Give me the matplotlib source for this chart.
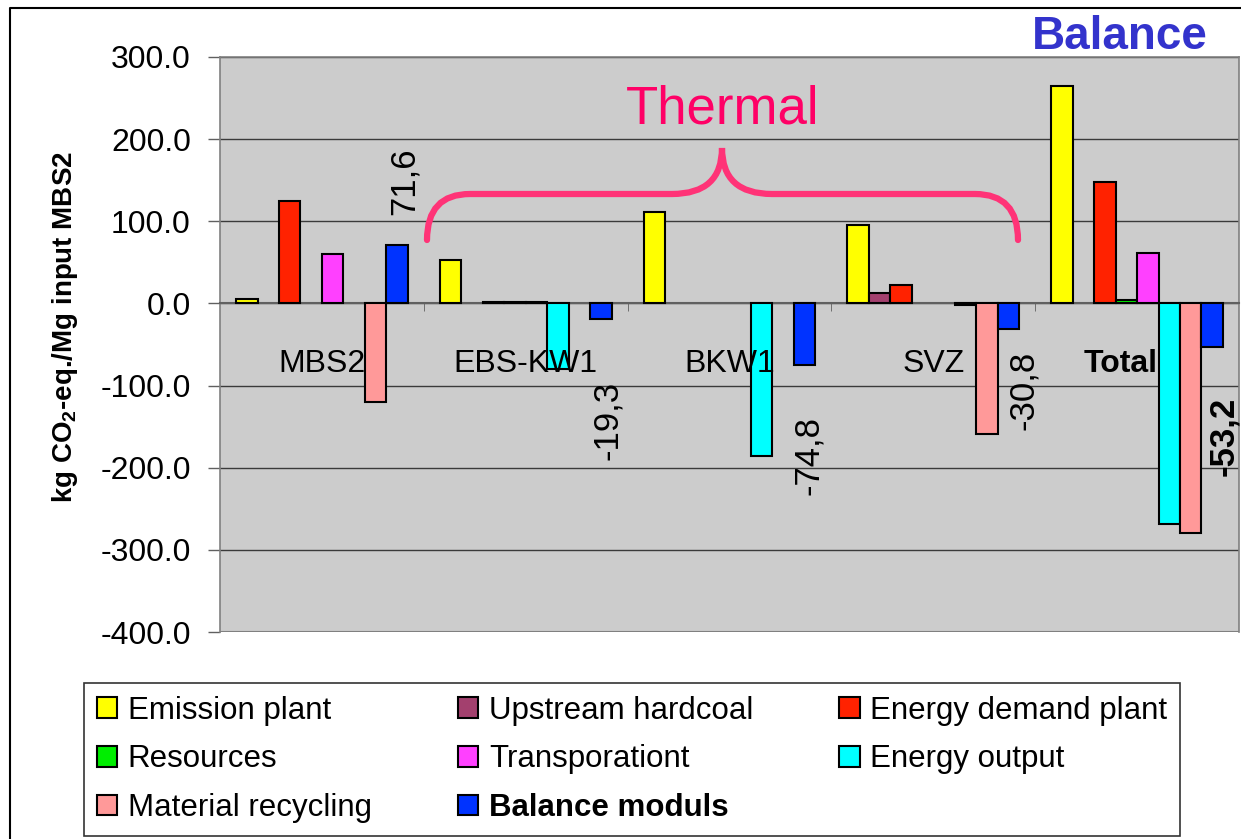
import numpy as np
import matplotlib
matplotlib.use('Agg')
import matplotlib.pyplot as plt
import matplotlib.transforms as mtransforms
from matplotlib.path import Path
from matplotlib.patches import PathPatch
from matplotlib.lines import Line2D

plt.rcParams['font.family'] = ['Liberation Sans', 'DejaVu Sans']
plt.rcParams['mathtext.fontset'] = 'custom'
plt.rcParams['mathtext.rm'] = 'Liberation Sans:bold'
plt.rcParams['mathtext.default'] = 'regular'

# data (kg CO2-eq./Mg input MBS2)
categories = ['MBS2', 'EBS-KW1', 'BKW1', 'SVZ', 'Total']
emission_plant = [5, 53, 111, 96, 265]
upstream_hardcoal = [0, 0, 0, 13, 0]
energy_demand = [125, 2, 0, 22, 148]
resources = [0, 2, 0, 0, 4]
transportation = [60, 2, 0, 0, 62]
energy_output = [0, -80, -186, -2, -268]
material_recycling = [-120, 0, 0, -159, -279]
balance_moduls = [71.6, -19.3, -74.8, -30.8, -53.2]

series_names = ['Emission plant', 'Upstream hardcoal', 'Energy demand plant',
                'Resources', 'Transporationt', 'Energy output',
                'Material recycling', 'Balance moduls']
series = [emission_plant, upstream_hardcoal, energy_demand, resources,
          transportation, energy_output, material_recycling, balance_moduls]
colors = ['#FFFF00', '#A3406E', '#FF2200', '#00EE00', '#FF40FF', '#00FFFF',
          '#FF9999', '#0033FF']

# label offsets (pixels) for the balance values
label_offsets = [(7, 63), (7, -101), (4, -91), (15, -62), (11, -89)]

fig = plt.figure(figsize=(12.41, 8.39), dpi=100)
ax = fig.add_axes([220 / 1241, 1 - 632 / 839, 1019 / 1241, 575 / 839])
ax.set_facecolor('#CCCCCC')

x = np.arange(len(categories))
w = 1 / 9.5
handles = []
for i, (vals, c, name) in enumerate(zip(series, colors, series_names)):
    v = np.array(vals, dtype=float)
    v[v == 0] = np.nan
    b = ax.bar(x + (i - 3.5) * w, v, w, color=c, edgecolor='black',
               linewidth=1.5, label=name, zorder=3)
    handles.append(b)

ax.set_xlim(-0.5, len(categories) - 0.5)
ax.set_ylim(-400, 300)
ax.set_yticks(np.arange(-400, 301, 100))
ax.set_yticklabels([f'{t:.1f}' for t in np.arange(-400, 301, 100)])
ax.yaxis.grid(True, color='#3a3a3a', linewidth=1.0, zorder=0)
ax.set_axisbelow(True)

for s in ['top', 'right', 'left']:
    ax.spines[s].set_color('#808080')
    ax.spines[s].set_linewidth(1.2)
ax.spines['bottom'].set_position(('data', 0))
ax.spines['bottom'].set_color('#606060')
ax.spines['bottom'].set_linewidth(1.5)
ax.axhline(-400, color='#808080', linewidth=1.5, zorder=1)

ax.set_xticks(x)
ax.set_xticklabels(categories)
ax.set_xticks(np.arange(0.5, len(categories) - 0.5, 1), minor=True)
ax.tick_params(axis='x', which='major', length=0, pad=33, labelsize=23)
ax.tick_params(axis='x', which='minor', length=6, direction='out', color='#606060')
ax.tick_params(axis='y', length=9, width=1, color='#606060', pad=12, labelsize=23)
ax.xaxis.set_zorder(4)
tot = ax.get_xticklabels()[-1]
tot.set_fontweight('bold')
tot.set_transform(tot.get_transform() +
                  mtransforms.ScaledTranslation(-16 / 100, 0, fig.dpi_scale_trans))

ax.set_ylabel(r'kg CO$_2$-eq./Mg input MBS2', fontsize=20, fontweight='bold')
ax.yaxis.set_label_coords(-140 / 1019, 0.53)

# data labels for balance moduls
bal_x = x + 3.5 * w
for k, (xv, v) in enumerate(zip(bal_x, balance_moduls)):
    ax.annotate(f'{v:.1f}'.replace('.', ','), xy=(xv, v),
                xytext=label_offsets[k], textcoords='offset pixels',
                rotation=90, ha='center', va='center', fontsize=25,
                fontweight='bold' if k == len(categories) - 1 else 'normal',
                zorder=5)

# "Thermal" brace in figure pixels
H = 839
def P(px, py):
    return (px, H - py)

verts = [P(427, 240), P(427, 194), P(470, 194), P(470, 194),
         P(672, 194), P(672, 194), P(722, 194), P(722, 148),
         P(722, 194), P(772, 194), P(772, 194),
         P(975, 194), P(975, 194), P(1018, 194), P(1018, 240)]
codes = [Path.MOVETO, Path.CURVE3, Path.CURVE3, Path.LINETO,
         Path.LINETO, Path.LINETO, Path.CURVE3, Path.CURVE3,
         Path.CURVE3, Path.CURVE3, Path.LINETO,
         Path.LINETO, Path.LINETO, Path.CURVE3, Path.CURVE3]
brace = PathPatch(Path(verts, codes), facecolor='none', edgecolor='#FF3377',
                  linewidth=4.5, capstyle='round', transform=None, zorder=6)
fig.add_artist(brace)

fig.text(723 / 1241, 1 - 110 / H, 'Thermal', color='#FF0066', fontsize=38,
         ha='center', va='center')
fig.text(1120 / 1241, 1 - 37 / H, 'Balance', color='#3333CC', fontsize=33,
         fontweight='bold', ha='center', va='center')

# slide frame
fig.add_artist(Line2D([10 / 1241, 10 / 1241, 1], [0, 1 - 8 / H, 1 - 8 / H],
                      color='black', linewidth=1.5, transform=fig.transFigure))

# legend (row-wise order)
order = [0, 3, 6, 1, 4, 7, 2, 5]
leg = fig.legend([handles[i] for i in order], [series_names[i] for i in order],
                 ncol=3, loc='upper left', bbox_to_anchor=(84 / 1241, 1 - 683 / H),
                 fontsize=22.5, frameon=True, fancybox=False, edgecolor='black',
                 handlelength=0.65, handleheight=0.65, handletextpad=0.35,
                 columnspacing=2.75, labelspacing=0.6, borderpad=0.4,
                 borderaxespad=0)
leg.get_frame().set_linewidth(1.2)
for t in leg.get_texts():
    if t.get_text() == 'Balance moduls':
        t.set_fontweight('bold')

fig.savefig('out.png', dpi=100)
